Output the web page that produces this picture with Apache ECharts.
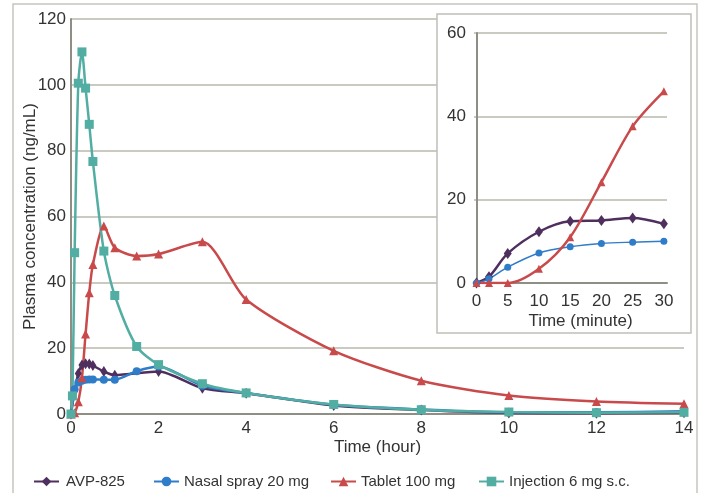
<!DOCTYPE html>
<html>
<head>
<meta charset="utf-8">
<script src="https://cdn.jsdelivr.net/npm/echarts@6/dist/echarts.min.js"></script>
<style>
  html, body { margin: 0; padding: 0; background: #fff; }
  #chart { width: 705px; height: 493px; }
</style>
</head>
<body>
<div id="chart"></div>
<script>
// main panel, time in hours
var hours = [0, 0.033, 0.083, 0.167, 0.25, 0.333, 0.417, 0.5, 0.75, 1, 1.5, 2, 3, 4, 6, 8, 10, 12, 14]
var avpMain = [0, null, 7, 12.3, 14.9, 15.3, 15.2, 14.7, 12.9, 11.8, null, 12.9, 7.8, 6.3, 2.6, 1.2, 0.3, 0.2, 0.4]
var nasalMain = [0, null, 7.5, 9.6, 10.1, 10.4, 10.5, 10.5, 10.4, 10.4, 13.0, 14.4, 8.6, 6.4, 2.8, 1.4, 0.5, 0.5, 0.8]
var tabletMain = [0, null, 0.4, 3.7, 11.0, 24.3, 36.8, 45.4, 57.1, 50.5, 48.0, 48.6, 52.3, 34.8, 19.2, 10.1, 5.6, 3.8, 3.1]
var injectionMain = [0, 5.5, 49, 100.5, 110, 99, 88, 76.7, 49.5, 36, 20.5, 15, 9.2, 6.4, 2.9, 1.3, 0.6, 0.4, 0.5]

// inset, time in minutes
var minutes = [0, 2, 5, 10, 15, 20, 25, 30]
var avpInset = [0, 1.5, 7.1, 12.3, 14.8, 15.0, 15.6, 14.2]
var nasalInset = [0, 1.0, 3.8, 7.2, 8.7, 9.5, 9.8, 10.0]
var tabletInset = [0, 0, 0, 3.4, 11.0, 24.2, 37.6, 46.0]

var hourTicks = [0, 2, 4, 6, 8, 10, 12, 14]
var minuteTicks = [0, 5, 10, 15, 20, 25, 30]

var names = ['AVP-825', 'Nasal spray 20 mg', 'Tablet 100 mg', 'Injection 6 mg s.c.']
var colors = ['#4f2f5e', '#2f7cc8', '#c94a4b', '#52ada2']

function pairs (xs, ys) {
  var out = []
  for (var i = 0; i < xs.length; i++) {
    out.push([xs[i], ys[i]])
  }
  return out
}

var font = 'Liberation Sans, Arial, sans-serif'
var txt = '#333'
var gridColor = '#b9b9ab'
var axisColor = '#8e8e84'

var myChart = echarts.init(document.getElementById('chart'))

var mainSeries = [
  {name: names[0], data: pairs(hours, avpMain), symbol: 'diamond', symbolSize: [7, 11]},
  {name: names[1], data: pairs(hours, nasalMain), symbol: 'circle', symbolSize: 8},
  {name: names[2], data: pairs(hours, tabletMain), symbol: 'triangle', symbolSize: 9},
  {name: names[3], data: pairs(hours, injectionMain), symbol: 'rect', symbolSize: 9}
].map(function (s, i) {
  return Object.assign({
    type: 'line',
    xAxisIndex: 0,
    yAxisIndex: 0,
    smooth: 0.25,
    connectNulls: true,
    color: colors[i],
    lineStyle: {width: 2.5, color: colors[i]},
    itemStyle: {color: colors[i]}
  }, s)
})

var insetSeries = [
  {name: names[0], data: pairs(minutes, avpInset), symbol: 'diamond', symbolSize: [8, 11], width: 2.5},
  {name: names[1], data: pairs(minutes, nasalInset), symbol: 'circle', symbolSize: 7, width: 1.5},
  {name: names[2], data: pairs(minutes, tabletInset), symbol: 'triangle', symbolSize: 8, width: 2.5}
].map(function (s, i) {
  return {
    type: 'line',
    name: s.name,
    data: s.data,
    symbol: s.symbol,
    symbolSize: s.symbolSize,
    xAxisIndex: 1,
    yAxisIndex: 1,
    z: 3,
    smooth: 0.3,
    color: colors[i],
    lineStyle: {width: s.width, color: colors[i]},
    itemStyle: {color: colors[i]}
  }
})

function legendAt (i, left, pad) {
  return {
    data: [names[i]],
    left: left,
    top: 469,
    itemWidth: 25,
    itemHeight: 12,
    textStyle: {fontFamily: font, fontSize: 15, color: txt, padding: [0, 0, 0, pad]}
  }
}

var option = {
  animation: false,
  backgroundColor: '#fff',
  textStyle: {fontFamily: font},
  legend: [
    legendAt(0, 28, 2),
    legendAt(1, 148, 0),
    legendAt(2, 325, 0),
    legendAt(3, 473, 0)
  ],
  graphic: [
    {
      type: 'rect',
      z: 0,
      shape: {x: 13, y: 4, width: 684, height: 540},
      style: {fill: 'none', stroke: '#c6c6be', lineWidth: 1.5}
    },
    {
      type: 'rect',
      z: 1,
      shape: {x: 437, y: 14, width: 254, height: 319},
      style: {fill: '#fff', stroke: '#c0c0b8', lineWidth: 1.5}
    }
  ],
  grid: [
    {left: 71, top: 19, width: 613, height: 395},
    {left: 474, top: 33, width: 193, height: 250}
  ],
  xAxis: [
    {
      type: 'value',
      gridIndex: 0,
      min: 0,
      max: 14,
      interval: 2,
      name: 'Time (hour)',
      nameLocation: 'middle',
      nameGap: 25,
      nameMoveOverlap: false,
      nameTextStyle: {fontFamily: font, fontSize: 17, color: txt},
      axisLine: {show: true, onZero: false, lineStyle: {color: axisColor, width: 2}},
      axisTick: {show: false},
      splitLine: {show: false},
      axisLabel: {fontFamily: font, fontSize: 17, color: txt, margin: 6, customValues: hourTicks}
    },
    {
      type: 'value',
      gridIndex: 1,
      z: 2,
      min: -0.4,
      max: 30.5,
      name: 'Time (minute)',
      nameLocation: 'middle',
      nameGap: 30,
      nameMoveOverlap: false,
      nameTextStyle: {fontFamily: font, fontSize: 17, color: txt, padding: [0, 0, 0, 20]},
      axisLine: {show: true, onZero: false, lineStyle: {color: axisColor, width: 2}},
      axisTick: {show: false},
      splitLine: {show: false},
      axisLabel: {fontFamily: font, fontSize: 17, color: txt, margin: 10, customValues: minuteTicks}
    }
  ],
  yAxis: [
    {
      type: 'value',
      gridIndex: 0,
      min: 0,
      max: 120,
      interval: 20,
      name: 'Plasma concentration (ng/mL)',
      nameLocation: 'middle',
      nameGap: 32,
      nameMoveOverlap: false,
      nameTextStyle: {fontFamily: font, fontSize: 17, color: txt},
      axisLine: {show: true, lineStyle: {color: axisColor, width: 2}},
      axisTick: {show: false},
      splitLine: {show: true, lineStyle: {color: gridColor, width: 1.5}},
      axisLabel: {fontFamily: font, fontSize: 17, color: txt, margin: 5}
    },
    {
      type: 'value',
      gridIndex: 1,
      z: 2,
      min: 0,
      max: 60,
      interval: 20,
      axisLine: {show: true, lineStyle: {color: axisColor, width: 2}},
      axisTick: {show: false},
      splitLine: {show: true, lineStyle: {color: gridColor, width: 1.5}},
      axisLabel: {fontFamily: font, fontSize: 17, color: txt, margin: 8}
    }
  ],
  series: mainSeries.concat(insetSeries)
}

myChart.setOption(option)
</script>
</body>
</html>
